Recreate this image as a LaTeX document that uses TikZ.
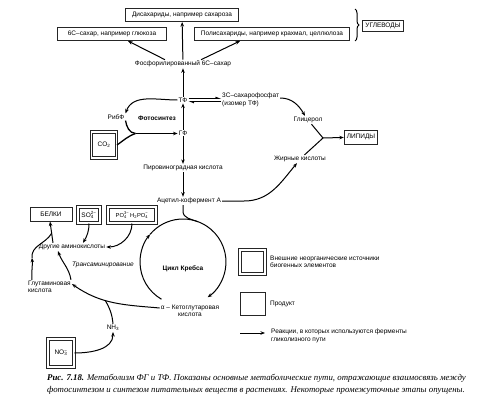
\documentclass[tikz,border=0pt]{standalone}
\usepackage{fontspec}
\setmainfont{Liberation Sans}
\newfontfamily\capfont{Liberation Serif}
\usetikzlibrary{arrows.meta,positioning,calc,decorations.pathreplacing}

\newcommand{\sbsp}[2]{\makebox[0pt][l]{\textsubscript{#1}}\textsuperscript{#2}}

\tikzset{
  lbl/.style={font=\fontsize{6.5}{7.5}\selectfont,inner sep=1pt,align=center},
  prod/.style={lbl,draw=black!85,line width=1pt,inner sep=2.5pt,minimum height=13pt},
  src/.style={lbl,draw=black!85,line width=1pt,double,double distance=1.8pt},
  line/.style={line width=1pt},
  arr/.style={-{Stealth[length=4.5pt,width=3.5pt]},line width=1pt},
  harp/.style={-{Straight Barb[harpoon,length=3pt,width=2.5pt]},line width=1pt}
}

\begin{document}
\begin{tikzpicture}[x=1pt,y=1pt]
  \useasboundingbox (0,0) rectangle (492,400);
  % carbohydrates
  \node[prod,minimum width=113pt] (disach) at (182,385) {Дисахариды, например сахароза};
  \node[prod,minimum width=109pt] (gluc) at (112,366) {6C–сахар, например глюкоза};
  \node[prod,minimum width=155pt] (poly) at (272,366) {Полисахариды, например крахмал, целлюлоза};
  \node[prod,minimum height=11pt] (uglev) at (383,374) {УГЛЕВОДЫ};
  \draw[line,decorate,decoration={brace,amplitude=4pt}] (355,391) -- (355,359);
  \node[lbl] (phos) at (183,336) {Фосфорилированный 6C–сахар};

  % photosynthesis
  \node[lbl] (tf) at (183,300) {ТФ};
  \node[lbl] (gf) at (183,267) {ГФ};
  \node[lbl,anchor=west,align=left] (isomer) at (221,300) {3C–сахарофосфат\\(изомер ТФ)};
  \node[lbl] (ribf) at (116,283) {РибФ};
  \node[lbl,font=\fontsize{6.5}{7.5}\selectfont\bfseries] (photo) at (157,282) {Фотосинтез};
  \node[src,minimum width=25pt,minimum height=26pt] (carbon) at (104,255) {CO\textsubscript{2}};
  \coordinate (fk) at (135.5,266.5);
  \node[lbl] (pyr) at (183,232) {Пировиноградная кислота};
  \node[lbl] (acet) at (189,199) {Ацетил-кофермент А};

  % lipids
  \node[lbl] (glyc) at (308,280) {Глицерол};
  \node[lbl] (fatty) at (300,241) {Жирные кислоты};
  \coordinate (jn) at (323,262);
  \node[prod,minimum height=14pt] (lipid) at (361,263) {ЛИПИДЫ};

  % proteins
  \node[prod,minimum width=42pt,minimum height=14pt] (belki) at (51,186) {БЕЛКИ};
  \node[src,minimum width=22pt,minimum height=16pt,inner sep=0.5pt] (so4) at (89,185) {SO\sbsp{4}{2−}};
  \node[src,minimum width=48pt,minimum height=16pt,inner sep=0.5pt,font=\fontsize{5.8}{7}\selectfont] (po4) at (132,185) {PO\sbsp{4}{3−}\,H\textsubscript{2}PO\sbsp{4}{−}};
  \node[lbl] (other) at (72,153) {Другие аминокислоты};
  \node[lbl,font=\fontsize{6.5}{7.5}\selectfont\itshape] (trans) at (103,135) {Трансаминирование};
  \node[lbl,anchor=west,align=left] (glut) at (27,113) {Глутаминовая\\кислота};
  \node[lbl] (akg) at (190,89) {α – Кетоглутаровая\\кислота};
  \node[lbl] (nh3) at (113,72) {NH\textsubscript{3}};
  \node[src,minimum width=26pt,minimum height=28pt] (no3) at (61,47) {NO\sbsp{3}{−}};

  % krebs cycle
  \coordinate (kc) at (183,138);
  \node[lbl,font=\fontsize{6.5}{7.5}\selectfont\bfseries] (krebs) at (183,131) {Цикл Кребса};

  % legend
  \node[src,minimum width=25pt,minimum height=24pt] (leg1) at (252.5,138) {};
  \node[lbl,anchor=west,align=left] (leg1t) at (269,138) {Внешние неорганические источники\\биогенных элементов};
  \node[prod,minimum width=25pt,minimum height=23pt] (leg2) at (252.5,96.5) {};
  \node[lbl,anchor=west] (leg2t) at (269,96) {Продукт};
  \coordinate (legA) at (240,67);
  \coordinate (legB) at (265,67);
  \node[lbl,anchor=west,align=left] (leg3t) at (270,64) {Реакции, в которых используются ферменты\\гликолизного пути};

  % caption
  \node[anchor=north west,inner sep=0pt,align=left,font=\capfont\fontsize{8.8}{12}\selectfont\itshape] (cap) at (47,26)
    {\textbf{Рис. 7.18.} Метаболизм ФГ и ТФ. Показаны основные метаболические пути, отражающие взаимосвязь между\\
     фотосинтезом и синтезом питательных веществ в растениях. Некоторые промежуточные этапы опущены.};

  % connectors
  \draw[arr] (phos) -- (disach);
  \draw[arr] ([xshift=-18pt]phos.north) -- ([xshift=16pt]gluc.south);
  \draw[arr] ([xshift=18pt]phos.north) -- ([xshift=-32pt]poly.south);
  \draw[arr] (tf) -- (phos);
  \draw[arr] (gf) -- (tf);
  \draw[arr] (tf.west) to[out=180,in=70] (ribf.north east);
  \draw[harp] ([yshift=1.6pt]tf.east) -- ([yshift=1.6pt]tf.east -| isomer.west);
  \draw[harp] ([yshift=-1.6pt]tf.east -| isomer.west) -- ([yshift=-1.6pt]tf.east);
  \draw[arr] (gf) -- (pyr);
  \draw[arr] (pyr) -- (pyr |- acet.north);
  \draw[line] (acet.south -| kc) -- ++(0,-6) to[out=-90,in=160] ($(kc)+(70:43)$);
  \draw[arr] ($(kc)+(240:43)$) arc[start angle=240,end angle=140,radius=43];
  \draw[arr] ($(kc)+(140:43)$) arc[start angle=140,end angle=-55,radius=43];
  \draw[arr] (acet.east) -- ++(22,0) to[out=0,in=-130] ([xshift=-3pt]fatty.south);
  \draw[arr] ([yshift=2pt]isomer.east) to[out=0,in=120] ([xshift=-3pt]glyc.north);
  \draw[line] (glyc) -- (jn);
  \draw[line] (fatty) -- (jn);
  \draw[arr] (jn) -- (lipid);
  \draw[arr] ([xshift=-19pt]other.north) -- coordinate[pos=0.45] (ob) ([xshift=-1pt]belki.south);
  \draw[arr] (so4.south) to[out=-90,in=60] ([xshift=11pt]other.north);
  \draw[arr] (po4.south) to[out=-90,in=0] (other.east);
  \draw[arr] ([xshift=44pt]glut.north west) to[out=100,in=-70] ([xshift=-14pt]other.south);
  \draw[arr] ([xshift=5pt]glut.north west) to[out=95,in=-85] ++(0,22) coordinate (g1);
  \draw[line] (g1) to[out=95,in=-120] (ob);
  \draw[arr] ([yshift=3pt]akg.west) to[out=175,in=-35] coordinate[pos=0.6] (jk) ([yshift=3pt]glut.east);
  \draw[line] (nh3.north) to[out=95,in=-60] (jk);
  \draw[arr] (no3.east) to[out=0,in=-90] (nh3.south);
  \draw[arr] (legA) -- (legB);
  % CO2 fixation fork
  \draw[line,line width=1.3pt] (carbon.east) to[out=35,in=200] (fk);
  \draw[line,line width=1.3pt] (ribf.south east) to[out=-80,in=175] (fk);
  \draw[arr,line width=1.3pt] (fk) -- (fk -| gf.west);
\end{tikzpicture}
\end{document}
